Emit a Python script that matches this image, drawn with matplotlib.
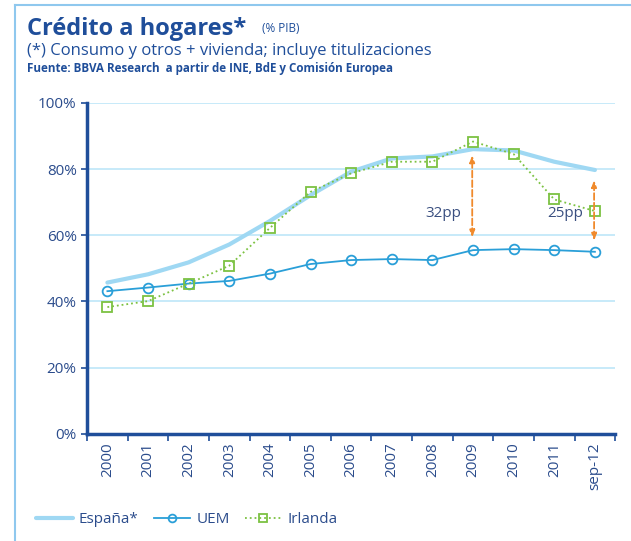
import numpy as np
import matplotlib.pyplot as plt
from matplotlib.lines import Line2D

# data
years = ['2000', '2001', '2002', '2003', '2004', '2005', '2006',
         '2007', '2008', '2009', '2010', '2011', 'sep-12']
espana = [45.7, 48.2, 51.8, 57.2, 64.3, 72.1, 79.2, 83.2, 83.8, 86.0, 85.6, 82.2, 79.7]
uem = [43.1, 44.2, 45.4, 46.2, 48.4, 51.3, 52.5, 52.8, 52.5, 55.5, 55.8, 55.5, 55.0]
irlanda = [38.3, 40.1, 45.4, 50.8, 62.2, 73.1, 78.7, 82.2, 82.2, 88.3, 84.5, 70.8, 67.3]

# gap arrows: (index, low, high, label)
gaps = [(9, 58.5, 85.0, '32pp'), (12, 57.5, 77.5, '25pp')]

dark = '#1f4e9a'
txt = '#2b4c8c'
plt.rcParams['font.family'] = ['Open Sans', 'DejaVu Sans']

fig = plt.figure(figsize=(6.31, 5.41), dpi=100)
ax = fig.add_axes([0.138, 0.198, 0.837, 0.612])

x = np.arange(len(years))
ax.plot(x, espana, color='#9fd8f3', lw=3, solid_capstyle='round', label='España*', zorder=3)
ax.plot(x, uem, color='#2a9fd8', lw=1.3, marker='o', ms=7, mfc='none', mec='#2a9fd8',
        mew=1.3, label='UEM', zorder=4)
ax.plot(x, irlanda, color='#7cc242', lw=1.3, ls=':', marker='s', ms=7, mfc='none',
        mec='#7cc242', mew=1.3, label='Irlanda', zorder=5)

for i, lo, hi, lab in gaps:
    ax.annotate('', xy=(i - 0.02, hi), xytext=(i - 0.02, lo),
                arrowprops=dict(arrowstyle='<|-|>,head_length=0.4,head_width=0.15',
                                color='#f08a2c', lw=1.3, ls='--'), zorder=6)
    ax.text(i - 0.3, 66.5, lab, ha='right', va='center', fontsize=11, color='#3a4f80')

ax.set_xlim(-0.5, 12.5)
ax.set_ylim(0, 100)
ax.set_yticks(np.arange(0, 101, 20))
ax.set_yticklabels([f'{v}%' for v in range(0, 101, 20)])
ax.yaxis.grid(True, color='#bde6f8', lw=1.2)
ax.set_axisbelow(True)

ax.set_xticks(x)
ax.set_xticklabels(years, rotation=90)
ax.set_xticks(np.arange(-0.5, 12.6, 1), minor=True)
ax.tick_params(axis='x', which='major', length=0, pad=6, labelsize=11, labelcolor=txt)
ax.tick_params(axis='x', which='minor', length=5, width=1.2, color=dark, direction='out')
ax.tick_params(axis='y', length=4, width=1.2, color=dark, labelsize=11, labelcolor=txt)

for s in ['top', 'right']:
    ax.spines[s].set_visible(False)
for s in ['left', 'bottom']:
    ax.spines[s].set_color(dark)
    ax.spines[s].set_linewidth(2.5)

# titles
fig.text(0.043, 0.936, 'Crédito a hogares*', fontsize=17, fontweight='bold', color=dark)
fig.text(0.415, 0.941, '(% PIB)', fontsize=8.5, color=dark)
fig.text(0.043, 0.898, '(*) Consumo y otros + vivienda; incluye titulizaciones',
         fontsize=12, color=dark)
fig.text(0.043, 0.866, 'Fuente: BBVA Research  a partir de INE, BdE y Comisión Europea',
         fontsize=8.4, fontweight='bold', color=dark)

# panel border
fig.add_artist(Line2D([0.024, 1.0], [0.991, 0.991], color='#8fc8ee', lw=1.5))
fig.add_artist(Line2D([0.024, 0.024], [0.0, 0.991], color='#8fc8ee', lw=1.5))

fig.legend(loc='lower left', bbox_to_anchor=(0.035, 0.0), ncol=3, frameon=False,
           fontsize=11, labelcolor=txt, handlelength=2.4, handletextpad=0.4,
           columnspacing=1.0, markerscale=0.8)

fig.savefig('out.png', dpi=100)
